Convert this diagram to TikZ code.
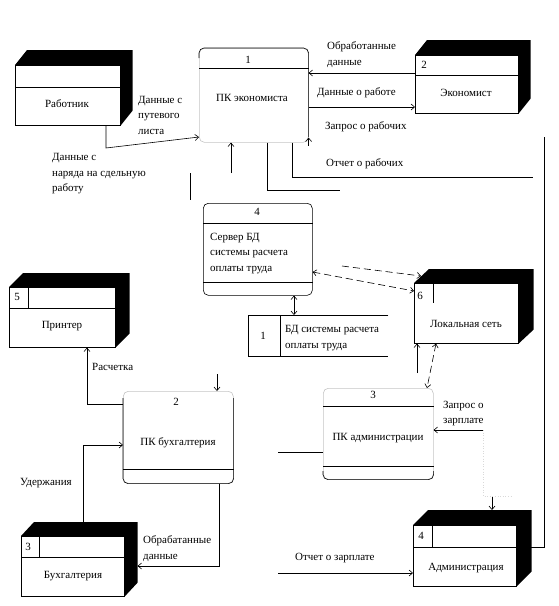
\documentclass[tikz,border=0pt]{standalone}
\usepackage{fontspec}
\setmainfont{Liberation Serif}
\usetikzlibrary{arrows.meta,calc}
\tikzset{
 ln/.style={line width=0.6pt},
 arr/.style={ln, -{Straight Barb[length=3.5pt,width=6pt]}},
 darr/.style={ln, {Straight Barb[length=3.5pt,width=6pt]}-{Straight Barb[length=3.5pt,width=6pt]}},
 dsh/.style={dash pattern=on 7pt off 4pt},
 txt/.style={inner sep=0pt, font=\fontsize{11}{15.5}\selectfont, align=left},
 front/.style={draw, ln, fill=white, inner sep=0pt, anchor=north west},
 proc/.style={ln, rounded corners=5pt, inner sep=0pt, anchor=north west},
 faintln/.style={draw=gray!45, ln}
}
\newcommand{\ExtEnt}[7]{%
 \node[front, minimum width=#4pt, minimum height=#5pt] (#1) at (#2,#3) {};
 \fill (#1.north west) -- ++(#6,-#7) -- ($(#1.north east)+(#6,-#7)$) -- ($(#1.south east)+(#6,-#7)$) -- (#1.south east) -- (#1.north east) -- cycle;
}
\begin{document}
\begin{tikzpicture}[x=1pt,y=-1pt]
\useasboundingbox[fill=white] (0,0) rectangle (559,606);

% ---------- external entities ----------
\ExtEnt{rab}{15}{65}{105}{60}{12}{15}
\draw[ln] (rab.west |- 0,87) -- (rab.east |- 0,87);
\node[txt] (rabt) at (67,104) {Работник};

\ExtEnt{eco}{415}{55}{103}{58}{12}{15}
\draw[ln] (eco.west |- 0,75) -- (eco.east |- 0,75);
\node[txt] (econ) at (424,65) {2};
\node[txt] (ecot) at (466,93) {Экономист};

\ExtEnt{prn}{9}{287}{106}{60}{14}{14}
\draw[ln] (prn.west |- 0,308) -- (prn.east |- 0,308);
\draw[ln] (28,0 |- prn.north) -- (28,308);
\node[txt] (prnn) at (17,297) {5};
\node[txt] (prnt) at (62,326) {Принтер};

\ExtEnt{lan}{414}{283}{104}{60}{15}{14}
\draw[ln] (433,0 |- lan.north) -- (433,303);
\node[txt] (lann) at (420,296) {6};
\node[txt] (lant) at (466,324) {Локальная сеть};

\ExtEnt{buh}{21}{536}{103}{60}{13}{14}
\draw[ln] (buh.west |- 0,557) -- (buh.east |- 0,557);
\draw[ln] (39,0 |- buh.north) -- (39,557);
\node[txt] (buhn) at (28,547) {3};
\node[txt] (buht) at (73,576) {Бухгалтерия};

\ExtEnt{adm}{413}{525}{103}{61}{15}{15}
\draw[ln] (adm.west |- 0,547) -- (adm.east |- 0,547);
\draw[ln] (432,0 |- adm.north) -- (432,547);
\node[txt] (admn) at (421,536) {4};
\node[txt] (admt) at (466,568) {Администрация};

% ---------- processes ----------
\node[proc, draw=gray!45, minimum width=109pt, minimum height=94pt] (p1) at (199,48) {};
\draw[ln, rounded corners=5pt] (p1.east |- 0,137) -- (p1.north east) -- (p1.north west) -- (p1.west |- 0,58);
\draw[ln] (p1.west |- 0,68) -- (p1.east |- 0,68);
\node[txt] (p1n) at (248,60) {1};
\node[txt] (p1t) at (252,98) {ПК экономиста};

\node[proc, draw, minimum width=109pt, minimum height=92pt] (p4) at (203,203) {};
\draw[ln] (p4.west |- 0,223) -- (p4.east |- 0,223);
\draw[ln] (p4.west |- 0,282) -- (p4.east |- 0,282);
\node[txt] (p4n) at (257,212) {4};
\node[txt, anchor=west] (p4t) at (210,253.5) {Сервер БД\\системы расчета\\оплаты труда};

\node[proc, draw=gray!45, minimum width=110pt, minimum height=91pt] (p3) at (323,388) {};
\draw[ln] (p3.west |- 0,406) -- (p3.east |- 0,406);
\draw[ln] (p3.west |- 0,466) -- (p3.east |- 0,466);
\draw[ln, rounded corners=5pt] (p3.west |- 0,471) -- (p3.south west) -- (p3.south east) -- (p3.east |- 0,471);
\node[txt] (p3n) at (373,395) {3};
\node[txt] (p3t) at (378,438) {ПК администрации};

\node[proc, draw=gray!45, minimum width=110pt, minimum height=92pt] (p2) at (123,391) {};
\draw[ln, rounded corners=5pt] (p2.west |- 0,398) -- (p2.south west) -- (p2.south east) -- (p2.east |- 0,398);
\draw[ln] (p2.west |- 0,469) -- (p2.east |- 0,469);
\node[txt] (p2n) at (176,402) {2};
\node[txt] (p2t) at (178,443) {ПК бухгалтерия};

% ---------- data store ----------
\node[inner sep=0pt, minimum width=140pt, minimum height=41pt, anchor=north west] (s1) at (248,315) {};
\draw[ln] (s1.north east) -- (s1.north west) -- (s1.south west) -- (s1.south east);
\draw[ln] (280,0 |- s1.north) -- (280,0 |- s1.south);
\node[txt] (s1n) at (263,336) {1};
\node[txt, anchor=west] (s1t) at (285,338) {БД системы расчета\\оплаты труда};

% ---------- connectors ----------
\draw[arr] (106,0 |- rab.south) -- (106,148) -- (p1.west |- 0,137);
\node[txt, anchor=west] (l1) at (138,115) {Данные с\\путевого\\листа};
\node[txt, anchor=west] (l2) at (52,174) {Данные с\\наряда на сдельную\\работу};
\coordinate (d1) at (190,173);
\coordinate (d2) at (190,200);
\draw[ln] (d1) -- (d2);
\draw[arr] (231,173) -- (231,0 |- p1.south);
\draw[ln] (267,0 |- p1.south) -- (267,190) -- (340,190);
\draw[ln] (292,0 |- p1.south) -- (292,177) -- (533,177);
\node[txt, anchor=west] (l3) at (326,164) {Отчет о рабочих};
\draw[ln] (544,137) -- (544,547) -- ($(adm.east |- 0,547)+(13,0)$);

\draw[arr] (eco.west |- 0,73) -- (p1.east |- 0,73);
\node[txt, anchor=west] (l4) at (327,54.5) {Обработанные\\данные};
\draw[arr] (p1.east |- 0,107) -- (eco.west |- 0,107);
\node[txt, anchor=west] (l5) at (317,93) {Данные о работе};
\draw[arr] ($(p1.south east)+(0,3)$) -- ($(p1.south east)+(0,-5)$);
\node[txt, anchor=west] (l6) at (325,127) {Запрос о рабочих};

\draw[arr, dsh] (342,266) -- ($(lan.north west)+(7,-7)$);
\draw[darr, dsh] (p4.east |- 0,272) -- (lan.west |- 0,291);
\draw[darr] (294,0 |- p4.south) -- (294,0 |- s1.north);

\draw[arr] (417,373) -- (417,0 |- lan.south);
\draw[darr, dsh] (436,0 |- lan.south) -- (427,388);

\draw[arr] (483,430) -- (p3.east |- 0,430);
\node[txt, anchor=west] (l7) at (443,413.5) {Запрос о\\зарплате};
\draw[gray!30, ln, dotted] (483,430) -- (483,496) -- (512,496);
\draw[arr] (492,497) -- (492,510);
\draw[ln] (278,452) -- (p3.west |- 0,452);

\draw[arr] (p2.west |- 0,404) -- (87,404) -- (87,0 |- prn.south);
\node[txt, anchor=west] (l8) at (92,367) {Расчетка};
\draw[arr] (217,374) -- (217,0 |- p2.north);
\draw[arr] (83,522) -- (83,445) -- (p2.west |- 0,445);
\node[txt, anchor=west] (l9) at (20,483) {Удержания};
\draw[arr] (219,0 |- p2.south) -- (219,566) -- ($(buh.east |- 0,566)+(13,0)$);
\node[txt, anchor=west] (l10) at (143,548.5) {Обрабатанные\\данные};
\draw[arr] (278,573) -- (adm.west |- 0,573);
\node[txt, anchor=west] (l11) at (295,558) {Отчет о зарплате};
\end{tikzpicture}
\end{document}
